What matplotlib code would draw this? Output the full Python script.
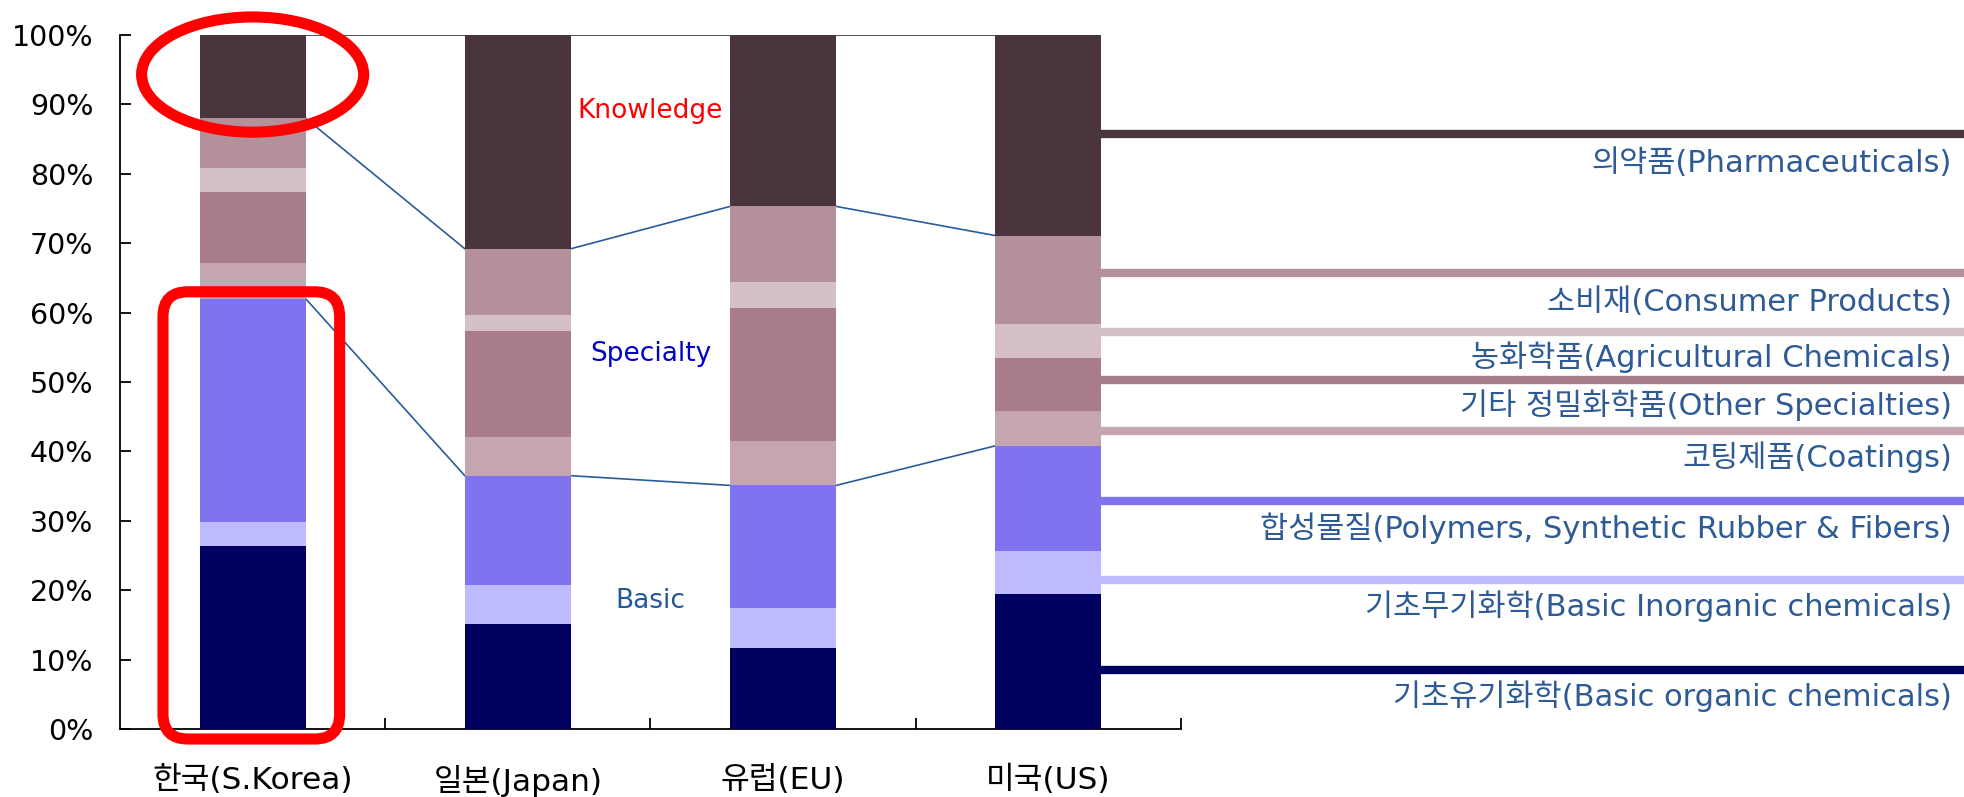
import matplotlib
matplotlib.use("Agg")
import matplotlib.pyplot as plt
from matplotlib.patches import Ellipse, FancyBboxPatch
from matplotlib.transforms import blended_transform_factory

# ---- data (share of each product group, %) ----
categories = ['한국(S.Korea)', '일본(Japan)', '유럽(EU)', '미국(US)']

basic_organic   = [26.4, 15.1, 11.6, 19.5]
basic_inorganic = [3.4, 5.6, 5.8, 6.2]
polymers        = [32.2, 15.8, 17.7, 15.1]
coatings        = [5.1, 5.6, 6.4, 5.0]
other_special   = [10.3, 15.2, 19.2, 7.6]
agri_chem       = [3.4, 2.4, 3.7, 5.0]
consumer        = [7.2, 9.5, 10.9, 12.7]
pharma          = [12.0, 30.8, 24.7, 28.9]

series_labels = [
    '기초유기화학(Basic organic chemicals)',
    '기초무기화학(Basic Inorganic chemicals)',
    '합성물질(Polymers, Synthetic Rubber & Fibers)',
    '코팅제품(Coatings)',
    '기타 정밀화학품(Other Specialties)',
    '농화학품(Agricultural Chemicals)',
    '소비재(Consumer Products)',
    '의약품(Pharmaceuticals)',
]
y_ticks = [0, 10, 20, 30, 40, 50, 60, 70, 80, 90, 100]
y_tick_labels = [f'{v}%' for v in y_ticks]

group_names = ['Basic', 'Specialty', 'Knowledge']
group_label_y = [18.4, 54.1, 89.0]

# heights of the guide lines drawn to the right of the last bar
guide_y = [8.5, 21.5, 32.9, 42.9, 50.3, 57.2, 65.7, 85.7]
# vertical offset (points) of each series name below its guide line
label_drop = [19, 19, 20, 19, 18, 18, 21, 21]

# ---- styling ----
colors = ['#000060', '#BDBBFD', '#7F73EF', '#C4A5B0',
          '#A87C8D', '#D5BFC8', '#B4909B', '#4A343E']
group_colors = ['#24579A', '#0000CC', '#FF0000']
label_color = '#2E5A95'
link_color = '#2A5B9A'
kr_font = ['DejaVu Sans', 'Noto Sans CJK KR']

series = [basic_organic, basic_inorganic, polymers, coatings,
          other_special, agri_chem, consumer, pharma]

W, H = 1965, 797
fig = plt.figure(figsize=(W / 100, H / 100), dpi=100)
ax = fig.add_axes([120 / W, 68 / H, 1061 / W, 694 / H])
ax.set_xlim(-0.5, 3.5)
ax.set_ylim(0, 100)

x = list(range(len(categories)))
bar_w = 0.40
bottom = [0.0] * len(categories)
for vals, col in zip(series, colors):
    ax.bar(x, vals, width=bar_w, bottom=bottom, color=col,
           edgecolor='none', zorder=3)
    bottom = [b + v for b, v in zip(bottom, vals)]

# series lines between neighbouring bars
basic_total = [a + b + c for a, b, c in zip(basic_organic, basic_inorganic, polymers)]
spec_total = [t + a + b + c + d for t, a, b, c, d in
              zip(basic_total, coatings, other_special, agri_chem, consumer)]
top_total = bottom
for i in range(len(categories) - 1):
    xs = [x[i] + bar_w / 2, x[i + 1] - bar_w / 2]
    ax.plot(xs, [basic_total[i], basic_total[i + 1]], color=link_color, lw=1.2, zorder=2)
    ax.plot(xs, [spec_total[i], spec_total[i + 1]], color=link_color, lw=1.2, zorder=2)
    ax.plot(xs, [top_total[i], top_total[i + 1]], color='#333333', lw=1.2, zorder=2)

# group labels
for name, yv, col in zip(group_names, group_label_y, group_colors):
    ax.text(1.5, yv, name, color=col, fontsize=19, ha='center', va='center',
            family='DejaVu Sans', zorder=4)

# axes styling
for side in ['top', 'right']:
    ax.spines[side].set_visible(False)
for side in ['left', 'bottom']:
    ax.spines[side].set_linewidth(1.3)
    ax.spines[side].set_color('black')

ax.set_yticks(y_ticks)
ax.set_yticklabels(y_tick_labels, family='DejaVu Sans')
ax.tick_params(axis='y', direction='in', length=8, width=1.3, pad=19,
               labelsize=20.5, labelcolor='black')
ax.set_xticks([0.5, 1.5, 2.5, 3.5])
ax.set_xticklabels([])
ax.tick_params(axis='x', which='major', direction='in', length=8, width=1.3)
ax.set_xticks(x, minor=True)
ax.set_xticklabels(categories, minor=True, family=kr_font, fontsize=22.5)
ax.tick_params(axis='x', which='minor', length=0, pad=26)

# guide lines + series names on the right
fig.canvas.draw()
to_fig = ax.transData + fig.transFigure.inverted()
x_start = to_fig.transform((x[-1] + bar_w / 2, 0))[0]
blend = blended_transform_factory(fig.transFigure, ax.transData)
for yv, col, name, drop in zip(guide_y, colors, series_labels, label_drop):
    ax.plot([x_start, 1.0], [yv, yv], color=col, lw=6, transform=blend,
            clip_on=False, solid_capstyle='butt', zorder=3)
    ax.annotate(name, xy=(1952 / W, yv), xycoords=blend,
                xytext=(0, -drop), textcoords='offset points',
                ha='right', va='center', color=label_color, fontsize=22,
                family=kr_font)

# red highlight marks
ax.add_patch(Ellipse((0, 94.3), 0.837, 16.6, fill=False, edgecolor='#FF0000',
                     lw=8, clip_on=False, zorder=5))
r = 0.094
aspect = (100 / 694) / (4 / 1061)
ax.add_patch(FancyBboxPatch((-0.338, -1.44), 0.666, 64.44,
                            boxstyle=f'round,pad=0,rounding_size={r}',
                            mutation_aspect=aspect, fill=False,
                            edgecolor='#FF0000', lw=8, clip_on=False, zorder=5))

fig.savefig('out.png', dpi=100)
